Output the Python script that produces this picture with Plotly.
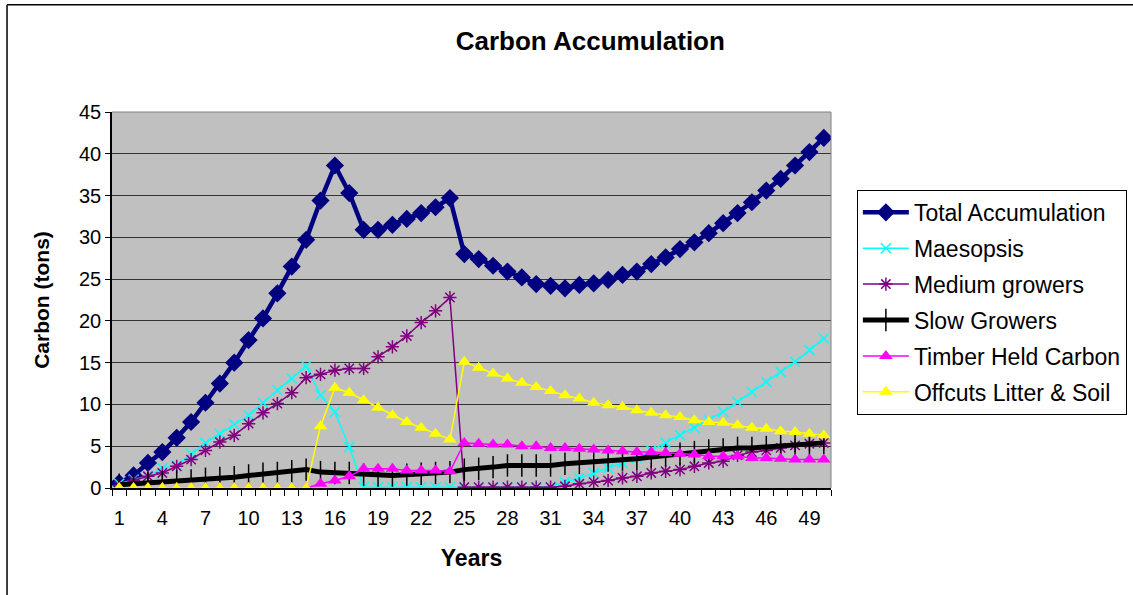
import plotly.graph_objects as go

years = list(range(1, 51))

total_accumulation = [0.6, 1.5, 3.0, 4.3, 6.0, 7.9, 10.2, 12.5, 15.0, 17.7,
                      20.3, 23.3, 26.5, 29.7, 34.4, 38.6, 35.3, 30.9, 30.9, 31.5,
                      32.2, 32.9, 33.6, 34.7, 28.0, 27.4, 26.6, 25.9, 25.2, 24.4,
                      24.2, 23.9, 24.3, 24.5, 24.9, 25.5, 25.9, 26.8, 27.6, 28.6,
                      29.4, 30.5, 31.7, 32.9, 34.2, 35.6, 37.0, 38.6, 40.2, 41.9]

maesopsis = [0.5, 1.0, 1.4, 2.4, 2.7, 4.1, 5.4, 6.5, 7.6, 8.7,
             10.2, 11.7, 13.1, 14.6, 11.1, 9.1, 4.9, 0.1, 0.1, 0.1,
             0.1, 0.1, 0.1, 0.1, 0.1, 0.1, 0.1, 0.1, 0.1, 0.1,
             0.2, 0.7, 1.2, 1.8, 2.4, 3.0, 3.6, 4.5, 5.4, 6.3,
             7.2, 8.1, 9.1, 10.3, 11.5, 12.7, 13.9, 15.1, 16.5, 17.9]

medium_growers = [0.3, 0.9, 1.4, 1.8, 2.6, 3.4, 4.5, 5.5, 6.3, 7.7,
                  9.0, 10.1, 11.4, 13.2, 13.6, 14.1, 14.3, 14.3, 15.7, 16.9,
                  18.2, 19.8, 21.2, 22.8, 0.1, 0.1, 0.1, 0.1, 0.1, 0.1,
                  0.1, 0.2, 0.5, 0.7, 0.9, 1.2, 1.4, 1.8, 2.0, 2.2,
                  2.6, 3.0, 3.2, 3.9, 4.3, 4.5, 4.8, 5.1, 5.3, 5.4]

slow_growers = [0.4, 0.5, 0.6, 0.7, 0.8, 0.9, 1.1, 1.2, 1.3, 1.5,
                1.7, 1.8, 2.0, 2.2, 1.9, 1.8, 1.8, 1.6, 1.5, 1.5,
                1.6, 1.7, 1.8, 1.9, 2.2, 2.3, 2.5, 2.7, 2.7, 2.7,
                2.7, 2.9, 3.0, 3.2, 3.3, 3.4, 3.5, 3.7, 3.9, 4.1,
                4.3, 4.5, 4.6, 4.8, 4.8, 4.9, 5.0, 5.1, 5.3, 5.4]

timber_held_carbon = [0.0, 0.0, 0.0, 0.0, 0.0, 0.0, 0.0, 0.0, 0.0, 0.0,
                      0.0, 0.0, 0.0, 0.0, 0.5, 0.9, 1.4, 2.3, 2.3, 2.3,
                      2.1, 2.1, 2.1, 2.0, 5.4, 5.3, 5.2, 5.2, 5.0, 5.0,
                      4.8, 4.8, 4.7, 4.6, 4.5, 4.4, 4.3, 4.3, 4.2, 4.1,
                      4.0, 3.8, 3.8, 3.8, 3.6, 3.6, 3.5, 3.4, 3.4, 3.4]

offcuts_litter_soil = [0.0, 0.0, 0.0, 0.0, 0.0, 0.0, 0.0, 0.0, 0.0, 0.0,
                       0.0, 0.0, 0.0, 0.0, 7.4, 12.0, 11.4, 10.5, 9.6, 8.7,
                       7.9, 7.2, 6.5, 5.8, 15.1, 14.4, 13.7, 13.1, 12.6, 12.1,
                       11.6, 11.1, 10.7, 10.2, 9.9, 9.7, 9.3, 9.0, 8.7, 8.5,
                       8.1, 7.9, 7.8, 7.5, 7.2, 7.1, 6.8, 6.7, 6.5, 6.3]

x_tick_labels = [str(v) for v in range(1, 51, 3)]

fig = go.Figure()

series = [
    ("Total Accumulation", total_accumulation, "#000080", 4.5, "diamond", 14, 0),
    ("Maesopsis", maesopsis, "#00FFFF", 1.5, "x-thin-open", 10, 1.5),
    ("Medium growers", medium_growers, "#800080", 1.5, "asterisk-open", 11, 1.5),
    ("Slow Growers", slow_growers, "#000000", 5, "line-ns-open", 16, 1.5),
    ("Timber Held Carbon", timber_held_carbon, "#FF00FF", 1.5, "triangle-up", 12, 0),
    ("Offcuts Litter & Soil", offcuts_litter_soil, "#FFFF00", 1.5, "triangle-up", 12, 0),
]

for name, vals, color, lw, sym, ms, mlw in series:
    marker = dict(symbol=sym, size=ms, color=color)
    marker["line"] = dict(color=color, width=mlw)
    fig.add_trace(go.Scatter(
        x=years, y=vals, name=name, mode="lines+markers",
        line=dict(color=color, width=lw),
        marker=marker, legendgroup=name,
    ))

fig.update_layout(
    width=1133, height=595,
    margin=dict(l=112, r=302, t=112, b=107, autoexpand=False),
    paper_bgcolor="white",
    plot_bgcolor="#C0C0C0",
    font=dict(family="Liberation Sans, Arial", color="black", size=20),
    title=dict(text="<b>Carbon Accumulation</b>", x=0.521, xanchor="center",
               y=0.932, yanchor="middle", font=dict(size=26)),
    showlegend=True,
    legend=dict(x=1.036, y=0.793, xanchor="left", yanchor="top",
                bordercolor="black", borderwidth=1, bgcolor="white",
                font=dict(size=23), tracegroupgap=3, itemwidth=46),
    shapes=[
        dict(type="line", xref="paper", yref="paper", x0=-0.146, x1=-0.146,
             y0=-0.3, y1=1.285, line=dict(color="black", width=1.5)),
        dict(type="line", xref="paper", yref="paper", x0=-0.146, x1=1.5,
             y0=1.285, y1=1.285, line=dict(color="black", width=1.5)),
    ],
)

fig.update_xaxes(
    range=[0.5, 50.5],
    tickmode="array", tickvals=list(range(1, 51, 3)), ticktext=x_tick_labels,
    ticks="", showgrid=False, zeroline=False,
    showline=True, linecolor="black", linewidth=1.5,
    minor=dict(ticks="outside", tick0=0.5, dtick=1, ticklen=6,
               tickcolor="black", tickwidth=1, showgrid=False),
    ticklabelstandoff=11,
    title=dict(text="<b>Years</b>", font=dict(size=23), standoff=22),
    tickfont=dict(size=20),
)

fig.update_yaxes(
    range=[0, 45], dtick=5, tick0=0,
    ticks="outside", ticklen=5, tickcolor="black",
    showgrid=True, gridcolor="#333333", gridwidth=1,
    zeroline=False, showline=True, linecolor="black", linewidth=1.5,
    mirror=False,
    title=dict(text="<b>Carbon (tons)</b>", font=dict(size=21), standoff=24),
    tickfont=dict(size=20),
)

fig.add_shape(type="line", xref="paper", yref="paper", x0=1, x1=1, y0=0, y1=1,
              line=dict(color="#808080", width=1))
fig.add_shape(type="line", xref="paper", yref="paper", x0=0, x1=1, y0=1, y1=1,
              line=dict(color="#808080", width=1))

fig.write_html("out.html", config={"displayModeBar": False},
               post_script="document.body.style.margin='0px';")
